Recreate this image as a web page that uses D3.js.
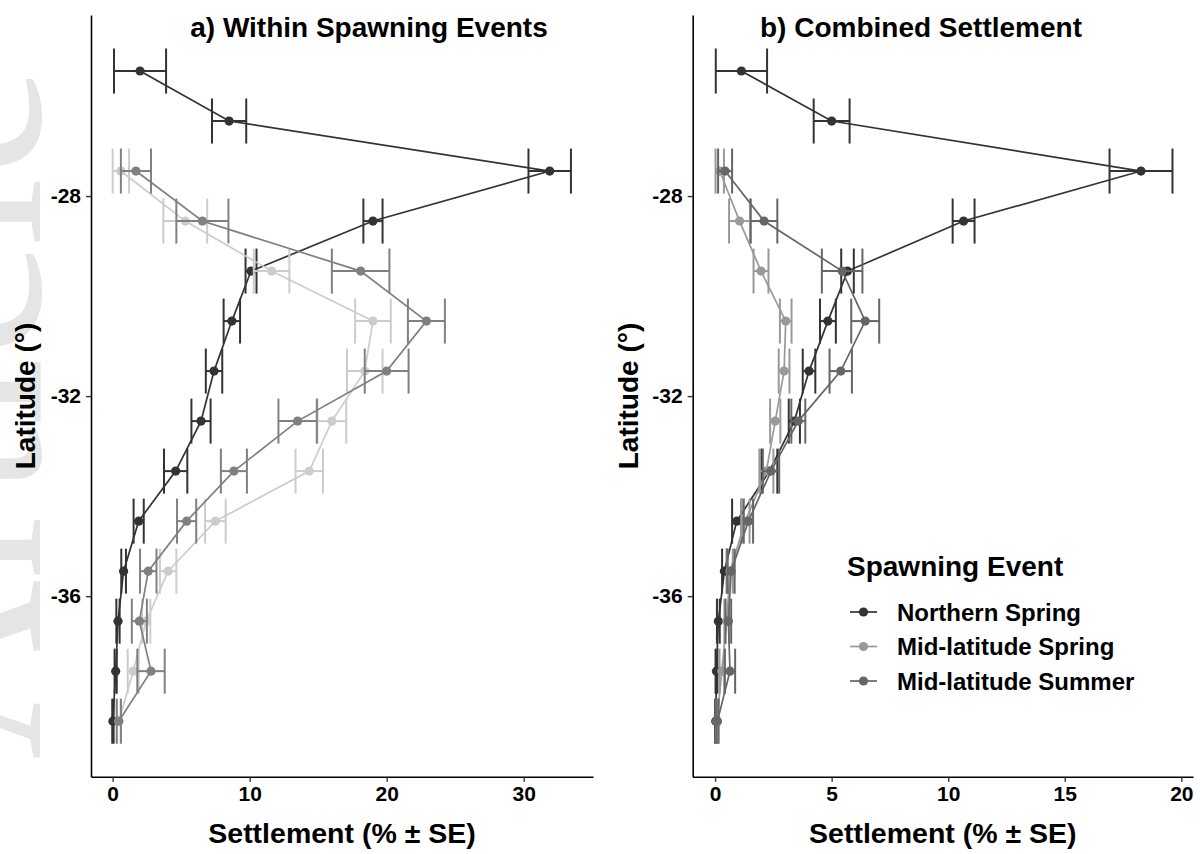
<!DOCTYPE html>
<html>
<head>
<meta charset="utf-8">
<script src="https://cdn.jsdelivr.net/npm/d3@7.9.0/dist/d3.min.js"></script>
<style>
  html, body { margin: 0; padding: 0; background: #fff; }
  svg { display: block; font-family: "Liberation Sans", Arial, sans-serif; }
</style>
</head>
<body>
<svg id="chart" width="1200" height="854"></svg>
<script>
// latitude bands (deg)
const latitudes = [-25.5, -26.5, -27.5, -28.5, -29.5, -30.5, -31.5, -32.5, -33.5, -34.5, -35.5, -36.5, -37.5, -38.5];
const events = ['Northern Spring', 'Mid-latitude Spring', 'Mid-latitude Summer'];

// a) settlement within spawning events (%)
const northernWithin   = [2.0, 8.5, 31.9, 19.0, 10.1, 8.7, 7.4, 6.45, 4.6, 1.9, 0.8, 0.39, 0.22, 0.02];
const northernWithinSE = [1.9, 1.25, 1.55, 0.7, 0.4, 0.6, 0.6, 0.7, 0.85, 0.37, 0.17, 0.12, 0.08, 0.05];
const springWithin     = [null, null, 0.6, 5.3, 11.6, 19.0, 18.4, 16.0, 14.35, 7.5, 4.05, 2.45, 1.5, 0.45];
const springWithinSE   = [null, null, 0.6, 1.6, 1.3, 1.3, 1.3, 1.05, 1.0, 0.75, 0.6, 0.3, 0.4, 0.15];
const summerWithin     = [null, null, 1.7, 6.55, 18.1, 22.9, 20.0, 13.5, 8.85, 5.4, 2.6, 1.95, 2.8, 0.45];
const summerWithinSE   = [null, null, 1.1, 1.9, 2.1, 1.35, 1.6, 1.4, 0.95, 0.7, 0.6, 0.55, 1.0, 0.15];

// b) combined settlement (%)
const northernComb   = [1.13, 5.0, 18.27, 10.66, 5.68, 4.84, 4.03, 3.4, 2.33, 0.93, 0.4, 0.14, 0.06, 0.03];
const northernCombSE = [1.1, 0.77, 1.35, 0.47, 0.27, 0.34, 0.27, 0.24, 0.34, 0.2, 0.1, 0.06, 0.04, 0.03];
const springComb     = [null, null, 0.2, 1.05, 1.97, 3.03, 2.96, 2.58, 2.2, 1.3, 0.64, 0.5, 0.29, 0.08];
const springCombSE   = [null, null, 0.18, 0.45, 0.32, 0.25, 0.23, 0.22, 0.3, 0.18, 0.12, 0.1, 0.1, 0.05];
const summerComb     = [null, null, 0.43, 2.1, 5.45, 6.44, 5.39, 3.57, 2.4, 1.43, 0.69, 0.57, 0.64, 0.1];
const summerCombSE   = [null, null, 0.3, 0.57, 0.87, 0.6, 0.48, 0.3, 0.35, 0.2, 0.15, 0.12, 0.22, 0.05];

const latTicks = [-28, -32, -36];
const withinTicks = [0, 10, 20, 30];
const combTicks = [0, 5, 10, 15, 20];

const svg = d3.select('#chart');

// faded watermark on the left edge
svg.append('text')
  .attr('transform', 'translate(40,760) rotate(-90)')
  .attr('font-family', '"Liberation Serif", "DejaVu Serif", serif')
  .attr('font-size', 250)
  .attr('fill', '#e5e5e5')
  .text('Article');

const y = d3.scaleLinear().domain([-24.38, -39.61]).range([15, 776.7]);

function series(vals, ses) {
  return latitudes.map((lat, i) => ({ lat, v: vals[i], se: ses[i] })).filter(d => d.v !== null);
}

function drawPanel(opts) {
  const { x0, x1, xDomain, ticks, title, titleX, data, colors, yTitleX } = opts;
  const x = d3.scaleLinear().domain(xDomain).range([x0, x1]);
  const g = svg.append('g');

  // axes
  const xAxis = g.append('g')
    .attr('transform', `translate(0,${y.range()[1]})`)
    .call(d3.axisBottom(x).tickValues(ticks).tickFormat(d => String(d))
      .tickSize(5).tickSizeOuter(0).tickPadding(4));
  const yAxis = g.append('g')
    .attr('transform', `translate(${x0},0)`)
    .call(d3.axisLeft(y).tickValues(latTicks).tickFormat(d => String(d))
      .tickSize(5).tickSizeOuter(0).tickPadding(5));
  [xAxis, yAxis].forEach(ax => {
    ax.select('.domain').attr('stroke', '#000').attr('stroke-width', 1.6);
    ax.selectAll('.tick line').attr('stroke', '#333').attr('stroke-width', 1.4);
    ax.selectAll('.tick text')
      .attr('font-family', '"Liberation Sans", Arial, sans-serif')
      .attr('font-size', 21).attr('font-weight', 'bold').attr('fill', '#000');
  });

  g.append('text')
    .attr('x', (x0 + x1) / 2).attr('y', 843)
    .attr('text-anchor', 'middle')
    .attr('font-size', 28.5).attr('font-weight', 'bold')
    .text('Settlement (% \u00B1 SE)');

  g.append('text')
    .attr('transform', `translate(${yTitleX},396) rotate(-90)`)
    .attr('text-anchor', 'middle')
    .attr('font-size', 28).attr('font-weight', 'bold')
    .text('Latitude (\u00B0)');

  g.append('text')
    .attr('x', titleX).attr('y', 37)
    .attr('text-anchor', 'middle')
    .attr('font-size', 28).attr('font-weight', 'bold')
    .text(title);

  const line = d3.line().x(d => x(d.v)).y(d => y(d.lat));
  const capH = y(0) - y(0.45);

  data.forEach((s, k) => {
    const col = colors[k];
    const sg = g.append('g');
    sg.append('path').datum(s)
      .attr('d', line).attr('fill', 'none')
      .attr('stroke', col).attr('stroke-width', 1.7);
    const eb = sg.selectAll('g.eb').data(s).join('g').attr('class', 'eb')
      .attr('stroke', col).attr('stroke-width', 2);
    eb.append('line')
      .attr('x1', d => x(d.v - d.se)).attr('x2', d => x(d.v + d.se))
      .attr('y1', d => y(d.lat)).attr('y2', d => y(d.lat));
    eb.append('line')
      .attr('x1', d => x(d.v - d.se)).attr('x2', d => x(d.v - d.se))
      .attr('y1', d => y(d.lat) - capH).attr('y2', d => y(d.lat) + capH);
    eb.append('line')
      .attr('x1', d => x(d.v + d.se)).attr('x2', d => x(d.v + d.se))
      .attr('y1', d => y(d.lat) - capH).attr('y2', d => y(d.lat) + capH);
    sg.selectAll('circle').data(s).join('circle')
      .attr('cx', d => x(d.v)).attr('cy', d => y(d.lat))
      .attr('r', 4.6).attr('fill', col);
  });
  return x;
}

drawPanel({
  x0: 91, x1: 593, xDomain: [-1.58, 35.06], ticks: withinTicks,
  title: 'a) Within Spawning Events', titleX: 369, yTitleX: 35,
  colors: ['#333333', '#cccccc', '#808080'],
  data: [series(northernWithin, northernWithinSE), series(springWithin, springWithinSE), series(summerWithin, summerWithinSE)]
});

drawPanel({
  x0: 692.7, x1: 1193, xDomain: [-0.96, 20.5], ticks: combTicks,
  title: 'b) Combined Settlement', titleX: 921, yTitleX: 638,
  colors: ['#333333', '#999999', '#666666'],
  data: [series(northernComb, northernCombSE), series(springComb, springCombSE), series(summerComb, summerCombSE)]
});

// legend
const legendColors = ['#333333', '#999999', '#666666'];
const lg = svg.append('g').attr('transform', 'translate(847,0)');
lg.append('text').attr('x', 0).attr('y', 576)
  .attr('font-size', 28).attr('font-weight', 'bold').text('Spawning Event');
const items = lg.selectAll('g.item').data(events).join('g').attr('class', 'item')
  .attr('transform', (d, i) => `translate(0,${612 + i * 34.5})`);
items.append('line').attr('x1', 3).attr('x2', 30).attr('y1', 0).attr('y2', 0)
  .attr('stroke', (d, i) => legendColors[i]).attr('stroke-width', 1.7);
items.append('circle').attr('cx', 16.5).attr('cy', 0).attr('r', 4.6)
  .attr('fill', (d, i) => legendColors[i]);
items.append('text').attr('x', 50).attr('y', 8.5)
  .attr('font-size', 24).attr('font-weight', 'bold').text(d => d);
</script>
</body>
</html>
